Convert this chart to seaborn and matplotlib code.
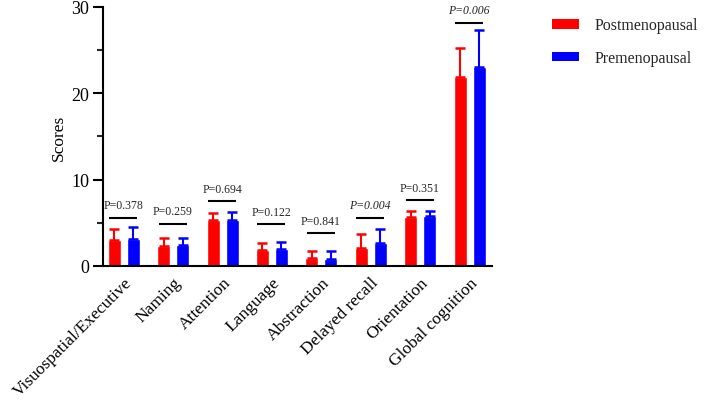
import numpy as np
import pandas as pd
import matplotlib
matplotlib.use("Agg")
import matplotlib.pyplot as plt
import seaborn as sns
from matplotlib.patches import Patch

categories = ["Visuospatial/Executive", "Naming", "Attention", "Language",
              "Abstraction", "Delayed recall", "Orientation", "Global cognition"]
groups = ["Postmenopausal", "Premenopausal"]
post_mean = [3.0, 2.3, 5.3, 1.8, 0.9, 2.1, 5.7, 21.9]
post_sd = [1.3, 0.9, 0.8, 0.8, 0.8, 1.6, 0.7, 3.4]
pre_mean = [3.1, 2.4, 5.3, 2.0, 0.85, 2.7, 5.8, 23.0]
pre_sd = [1.4, 0.8, 0.9, 0.8, 0.85, 1.6, 0.6, 4.3]
p_labels = ["P=0.378", "P=0.259", "P=0.694", "P=0.122", "P=0.841",
            "P=0.004", "P=0.351", "P=0.006"]
p_italic = [False, False, False, False, False, True, False, True]
bracket_y = [5.6, 4.9, 7.5, 4.8, 3.8, 5.6, 7.6, 28.2]

sns.set_theme(style="ticks")
plt.rcParams["font.family"] = ["Liberation Serif", "DejaVu Serif"]

df = pd.DataFrame({
    "category": categories * 2,
    "group": [groups[0]] * len(categories) + [groups[1]] * len(categories),
    "score": post_mean + pre_mean,
})
colors = {"Postmenopausal": "#FF0000", "Premenopausal": "#0000FF"}

fig = plt.figure(figsize=(7.08, 4.10), dpi=100)
ax = fig.add_axes([0.1455, 0.349, 0.5495, 0.6315])
sns.barplot(data=df, x="category", y="score", hue="group", order=categories,
            hue_order=groups, palette=colors, width=0.77, gap=0.32,
            errorbar=None, saturation=1, legend=False, ax=ax)

n = len(categories)
patches = ax.patches[:2 * n]
for gi, (means, sds, col) in enumerate([(post_mean, post_sd, "#FF0000"),
                                         (pre_mean, pre_sd, "#0000FF")]):
    xs = [patches[gi * n + i].get_x() + patches[gi * n + i].get_width() / 2 for i in range(n)]
    ax.errorbar(xs, means, yerr=[np.zeros(n), sds], fmt="none", ecolor=col,
                elinewidth=1.5, capsize=3.5, capthick=1.8)

for i in range(n):
    left = patches[i].get_x() + 0.03
    right = patches[n + i].get_x() + patches[n + i].get_width() - 0.05
    ax.plot([left, right], [bracket_y[i]] * 2, color="black", lw=1.5,
            solid_capstyle="butt")
    ax.text((left + right) / 2, bracket_y[i] + 0.75, p_labels[i],
            ha="center", va="bottom", fontsize=8.5,
            style="italic" if p_italic[i] else "normal")

ax.set_xlim(-0.42, n - 1 + 0.455)
ax.set_ylim(0, 30)
ax.set_yticks([0, 10, 20, 30])
ax.set_yticks([5, 15, 25], minor=True)
ax.tick_params(axis="y", which="major", length=7, width=1.5, labelsize=13,
               colors="black", pad=3)
ax.tick_params(axis="y", which="minor", length=4, width=1.5)
ax.tick_params(axis="x", length=0, labelsize=12.5, colors="black", pad=6)
ax.set_xticks(range(n))
ax.set_xticklabels(categories, rotation=45, ha="right", rotation_mode="anchor")
ax.set_xlabel("")
ax.set_ylabel("Scores", fontsize=12.5, color="black", labelpad=3)
for s in ["left", "bottom"]:
    ax.spines[s].set_linewidth(1.5)
    ax.spines[s].set_color("black")
sns.despine(ax=ax)

handles = [Patch(facecolor=colors[g], edgecolor="none") for g in groups]
fig.legend(handles, groups, loc="upper left", bbox_to_anchor=(0.7797, 0.955),
           frameon=False, fontsize=11.5, handlelength=1.69, handleheight=0.55,
           labelspacing=1.05, handletextpad=1.0, borderpad=0, borderaxespad=0)

fig.savefig("out.png", dpi=100)
